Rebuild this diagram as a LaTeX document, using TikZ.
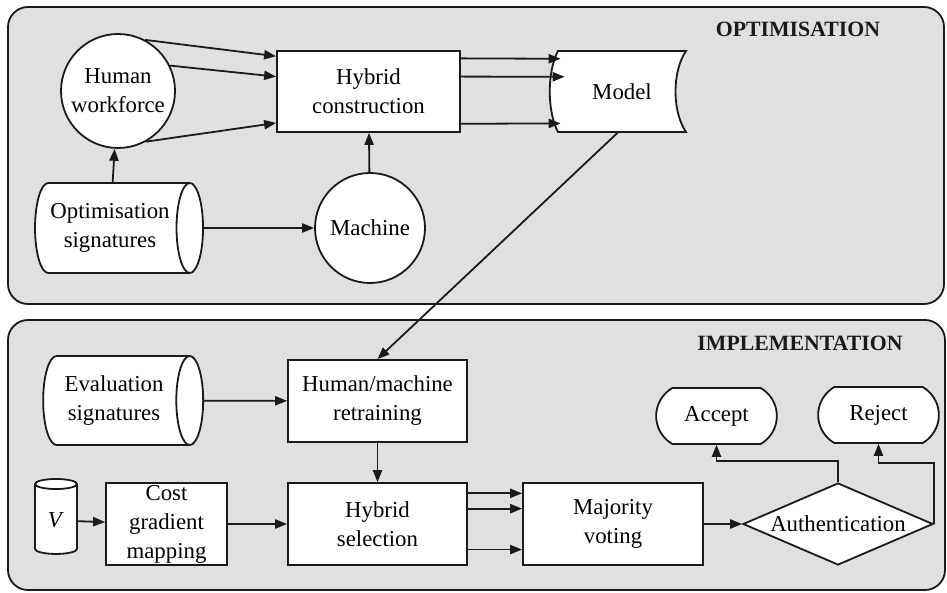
\documentclass[tikz,border=0pt]{standalone}
\usepackage{fontspec}
\setmainfont{Liberation Serif}
\usetikzlibrary{arrows.meta, shapes.geometric, shapes.misc, calc}
\definecolor{panelGray}{HTML}{DFE0E2}
\definecolor{inkBlack}{HTML}{1A1A1A}

\begin{document}
\begin{tikzpicture}[
  x=0.5pt, y=-0.5pt,
  font=\fontsize{11.4}{14.5}\selectfont,
  >={Triangle[length=6pt, width=4.6pt]},
  panel/.style={draw=inkBlack, fill=panelGray, line width=0.9pt, rounded corners=10pt},
  ptitle/.style={font=\fontsize{10.9}{13}\selectfont\bfseries, text=inkBlack},
  shell/.style={draw=inkBlack, fill=white, line width=0.9pt},
  box/.style={shell, rectangle, align=center, inner sep=1pt},
  blob/.style={shell, circle, align=center, inner sep=1pt},
  drum/.style={shell, cylinder, aspect=0.5, align=center, inner sep=1pt},
  term/.style={shell, rounded rectangle, rounded rectangle arc length=120,
               minimum width=67pt, minimum height=28pt},
  arr/.style={->, line width=0.9pt, draw=inkBlack},
]
\useasboundingbox (0,0) rectangle (947,593);

% ===== panels ===============================================================
\draw[panel] (8,7) rectangle (944,304);
\draw[panel] (8,320) rectangle (945,590);
\node[ptitle] (optt) at (798,29) {OPTIMISATION};
\node[ptitle] (impt) at (800,343) {IMPLEMENTATION};

% ===== Optimisation =========================================================
\node[blob, minimum size=57pt] (hw) at (118,91) {Human\\workforce};
\node[box, minimum width=91.5pt, minimum height=40.5pt] (hc) at (368.5,91.5) {Hybrid\\construction};
\coordinate (mdl) at (622,91.5);
\draw[shell] ($(mdl)+(-64,-40.5)$) -- ($(mdl)+(64,-40.5)$)
  .. controls ($(mdl)+(50,-20)$) and ($(mdl)+(50,20)$) .. ($(mdl)+(64,40.5)$)
  -- ($(mdl)+(-64,40.5)$)
  .. controls ($(mdl)+(-75,20)$) and ($(mdl)+(-75,-20)$) .. cycle;
\node[inner sep=0, minimum width=64pt, minimum height=40.5pt] (model) at (mdl) {Model};
\node[drum, minimum height=84pt, minimum width=45pt] (os) at (110,228) {Optimisation\\signatures};
\node[blob, minimum size=55pt] (mc) at (370,228) {Machine};

\draw[arr] (hw.62) -- ($(hc.north west)!0.074!(hc.south west)$);
\draw[arr] (hw.26) -- ($(hc.north west)!0.32!(hc.south west)$);
\draw[arr] (hw.-61) -- ($(hc.north west)!0.88!(hc.south west)$);
\foreach \f/\s in {0.1/1.5, 0.32/3.5, 0.89/1.5}
  \draw[arr, shorten >=-\s pt] ($(hc.north east)!\f!(hc.south east)$) -- ($(model.north west)!\f!(model.south west)$);
\draw[arr] (os) -- (hw);
\draw[arr] (os) -- (mc);
\draw[arr] (mc) -- (hc);

% ===== Implementation =======================================================
\node[drum, minimum height=80pt, minimum width=44.5pt] (es) at (114,400.5) {Evaluation\\signatures};
\node[box, minimum width=89.5pt, minimum height=41pt] (hmr) at (377.5,401) {Human/machine\\retraining};
\node[drum, shape border rotate=90, minimum width=21pt, minimum height=37.5pt] (v) at (56,520.5) {\textit{V}};
\node[box, minimum width=60.5pt, minimum height=41pt] (cgm) at (166.5,524) {Cost\\gradient\\mapping};
\node[box, minimum width=89.5pt, minimum height=41pt] (hs) at (377.5,524) {Hybrid\\selection};
\node[box, minimum width=90pt, minimum height=41pt] (mv) at (613,524) {Majority\\voting};
\node[shell, diamond, aspect=2.3, inner sep=0, minimum width=95pt, minimum height=41pt] (auth) at (838,524) {Authentication};
\node[term] (acc) at (716.5,416) {Accept};
\node[term] (rej) at (878.5,415) {Reject};

\draw[arr] ($(model.south)+(-4,0)$) -- (hmr.north);
\draw[arr] (es) -- (hmr);
\draw[arr] (hmr) -- (hs);
\draw[arr] (v) -- (cgm);
\draw[arr] (cgm) -- (hs);
\foreach \f in {0.134, 0.317, 0.805}
  \draw[arr] ($(hs.north east)!\f!(hs.south east)$) -- ($(mv.north west)!\f!(mv.south west)$);
\draw[arr] (mv) -- (auth);
\draw[arr] (auth.north) -- ++(0,-21) -| (acc.south);
\draw[arr] (auth.east) -- ++(0,-61) -| (rej.south);

\end{tikzpicture}
\end{document}
